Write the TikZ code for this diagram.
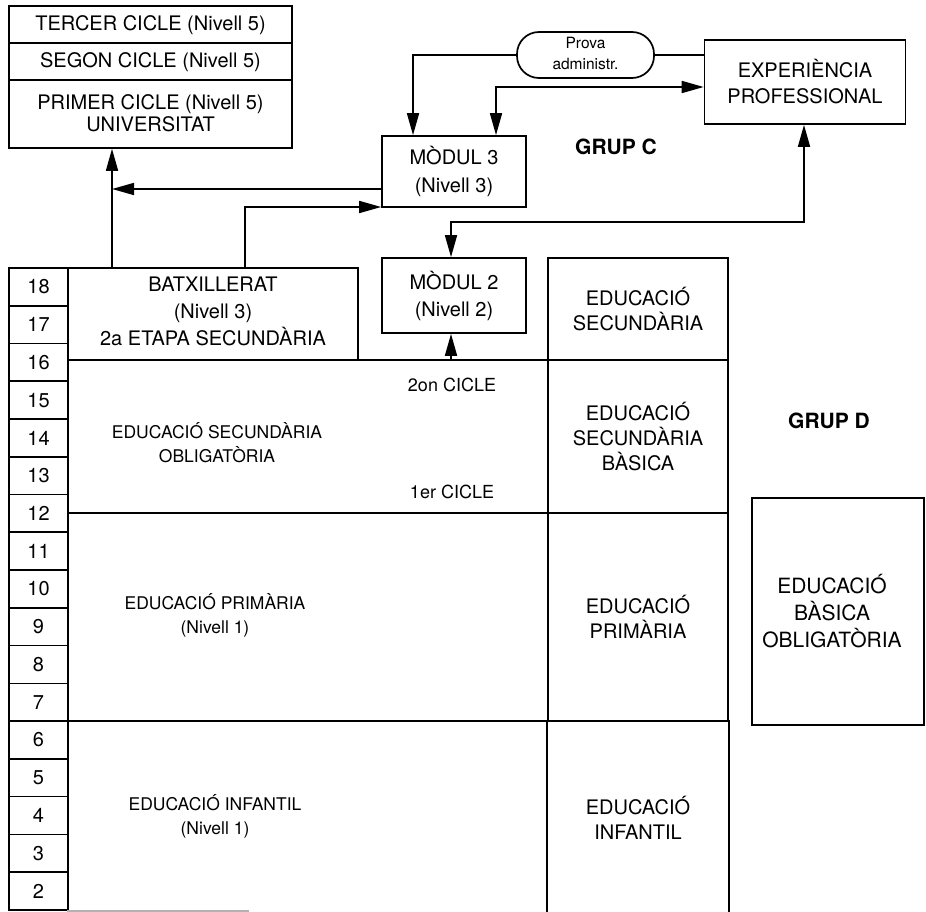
\documentclass[tikz,border=0pt]{standalone}
\usepackage{fontspec}
\setmainfont{TeX Gyre Heros}
\usetikzlibrary{arrows.meta}
\begin{document}
\begin{tikzpicture}[x=1pt,y=-1pt,
  line width=1.7pt,
  box/.style={draw, rectangle, inner sep=0pt},
  lbl/.style={align=center, inner sep=0pt, font=\fontsize{20}{26}\selectfont},
  smalllbl/.style={align=center, inner sep=0pt, font=\fontsize{17.5}{24}\selectfont},
  grup/.style={inner sep=0pt, font=\bfseries\fontsize{21}{24}\selectfont},
  agecell/.style={box, minimum width=59pt, minimum height=37.76pt, font=\fontsize{20}{20}\selectfont},
  arr/.style={-{Triangle[length=22pt,width=12pt]}},
  darr/.style={{Triangle[length=22pt,width=12pt]}-{Triangle[length=22pt,width=12pt]}},
]
\useasboundingbox (0,0) rectangle (926,912);

% University block
\node[box, minimum width=283pt, minimum height=142pt] (univ) at (150.5,77) {};
\draw (univ.west |- 0,43) -- (univ.east |- 0,43);
\draw (univ.west |- 0,80) -- (univ.east |- 0,80);
\node[lbl] (tercer) at (150.5,25) {TERCER CICLE (Nivell 5)};
\node[lbl] (segon) at (150.5,62) {SEGON CICLE (Nivell 5)};
\node[lbl, font=\fontsize{20}{22}\selectfont] (primer) at (150.5,113) {PRIMER CICLE (Nivell 5)\\UNIVERSITAT};

% Prova and experience
\node[draw, rectangle, rounded corners=22pt, minimum width=137pt, minimum height=46pt, inner sep=0pt] (prova) at (585.5,55) {};
\node[align=center, inner sep=0pt, font=\fontsize{15.5}{21}\selectfont] (provat) at (585.5,53.5) {Prova\\administr.};
\node[box, minimum width=201pt, minimum height=84pt, lbl] (exp) at (805,82) {EXPERIÈNCIA\\PROFESSIONAL};

% Modules
\node[box, minimum width=144pt, minimum height=71pt, lbl, font=\fontsize{20}{28}\selectfont] (m3) at (454,171.5) {MÒDUL 3\\(Nivell 3)};
\node[box, minimum width=144pt, minimum height=75pt, lbl, font=\fontsize{20}{27}\selectfont] (m2) at (454,295.5) {MÒDUL 2\\(Nivell 2)};

\node[grup] (grupc) at (616,147) {GRUP C};
\node[grup] (grupd) at (829,421) {GRUP D};

% Age column
\foreach \a [count=\i from 0] in {18,17,...,2}
  \node[agecell] (age\a) at (38.5,{268+37.76*(\i+0.5)}) {\a};

% Left region
\node[box, minimum width=290pt, minimum height=92pt] (batx) at (213,314) {};
\node[lbl, font=\fontsize{20}{27}\selectfont] (batxt) at (213,311) {BATXILLERAT\\(Nivell 3)\\2a ETAPA SECUNDÀRIA};

\node[box, minimum width=480pt, minimum height=153pt] (eso) at (308,436.5) {};
\node[smalllbl] (esot) at (217,443) {EDUCACIÓ SECUNDÀRIA\\OBLIGATÒRIA};
\node[inner sep=0pt, font=\fontsize{18}{18}\selectfont] (cicle2) at (452,385) {2on CICLE};
\node[inner sep=0pt, font=\fontsize{18}{18}\selectfont] (cicle1) at (452,492) {1er CICLE};

\node[box, minimum width=480pt, minimum height=208pt] (prim) at (308,617) {};
\node[smalllbl] (primt) at (215,615) {EDUCACIÓ PRIMÀRIA\\(Nivell 1)};

\node[inner sep=0pt, minimum width=480pt, minimum height=189pt] (inf) at (308,815.5) {};
\draw[gray!60] (inf.south west) -- ++(182,0);
\node[smalllbl] (inft) at (215,816) {EDUCACIÓ INFANTIL\\(Nivell 1)};

% Right column
\node[box, minimum width=180pt, minimum height=102pt, lbl, font=\fontsize{20}{25}\selectfont] (rc1) at (638,309) {EDUCACIÓ\\SECUNDÀRIA};
\node[box, minimum width=180pt, minimum height=153pt, lbl, font=\fontsize{20}{25}\selectfont] (rc2) at (638,436.5) {EDUCACIÓ\\SECUNDÀRIA\\BÀSICA};
\node[box, minimum width=180pt, minimum height=208pt, lbl, font=\fontsize{20}{25}\selectfont] (rc3) at (638,617) {EDUCACIÓ\\PRIMÀRIA};
\node[inner sep=0pt, minimum width=180pt, minimum height=191pt] (rc4) at (638,816.5) {};
\draw (rc4.south west) -- (rc4.north west);
\draw (rc4.north east) -- (rc4.south east);
\node[lbl, font=\fontsize{20}{25}\selectfont] (rc4t) at (638,818) {EDUCACIÓ\\INFANTIL};

% EBO
\node[box, minimum width=172pt, minimum height=227pt] (ebo) at (838,611.5) {};
\node[lbl, font=\fontsize{21}{27}\selectfont] (ebot) at (832,611.5) {EDUCACIÓ\\BÀSICA\\OBLIGATÒRIA};

% Connectors
\coordinate (pl) at (413,55);
\draw[arr] (prova.west) -- (pl) -- (pl |- m3.north);
\draw (prova.east) -- (prova.east -| exp.west);
\coordinate (c3) at (496,87);
\draw[darr] (c3 |- m3.north) -- (c3) -- (c3 -| exp.west);
\coordinate (univx) at (112,0);
\draw[arr] (m3.west |- 0,189) -- (univx |- 0,189);
\draw[arr] (univx |- batx.north) -- (univx |- univ.south);
\coordinate (bx) at (245,207);
\draw[arr] (bx |- batx.north) -- (bx) -- (bx -| m3.west);
\coordinate (e2) at (804,222);
\coordinate (m2x) at (451,222);
\draw[darr] (m2x |- m2.north) -- (m2x) -- (e2) -- (e2 |- exp.south);
\draw[arr] (m2x |- eso.north) -- (m2x |- m2.south);
\end{tikzpicture}
\end{document}
